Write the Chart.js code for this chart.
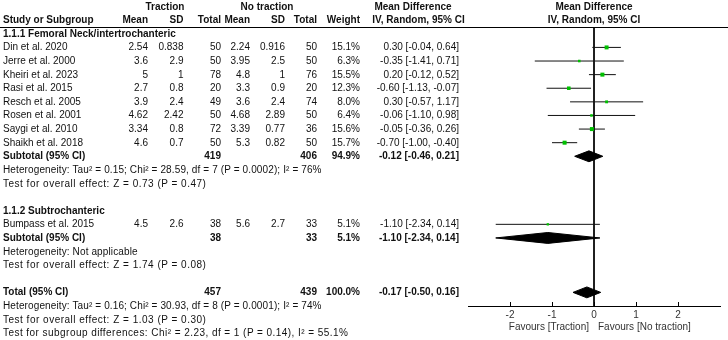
<!DOCTYPE html>
<html><head><meta charset="utf-8">
<script src="https://cdn.jsdelivr.net/npm/chart.js@4.4.1/dist/chart.umd.min.js"></script>
<style>
html,body{margin:0;padding:0;background:#fff;}
#wrap{position:relative;width:728px;height:340px;overflow:hidden;font-family:"Liberation Sans",Arial,sans-serif;font-size:10px;color:#111;}
canvas{position:absolute;left:0;top:0;}
.t{position:absolute;white-space:nowrap;line-height:12px;transform:translateY(-50%);}
.r{transform:translate(-100%,-50%);}
.c{transform:translate(-50%,-50%);}
.b{font-weight:bold;}
.het{letter-spacing:0.12px;}
.tst{letter-spacing:0.5px;}
.sgd{letter-spacing:0.45px;}
#hline{position:absolute;left:0;top:27px;width:728px;height:1px;background:#000;}
</style></head><body>
<div id="wrap"><canvas id="c" width="728" height="340"></canvas><div id="hline"></div></div>
<script>
// ---------- DATA ----------
const groupNames = ["1.1.1 Femoral Neck/intertrochanteric", "1.1.2 Subtrochanteric"];
const studies = ["Din et al. 2020","Jerre et al. 2000","Kheiri et al. 2023","Rasi et al. 2015","Resch et al. 2005","Rosen et al. 2001","Saygi et al. 2010","Shaikh et al. 2018","Bumpass et al. 2015"];
const studyGroup = [0,0,0,0,0,0,0,0,1];
const tMean = ["2.54","3.6","5","2.7","3.9","4.62","3.34","4.6","4.5"];
const tSD   = ["0.838","2.9","1","0.8","2.4","2.42","0.8","0.7","2.6"];
const tN    = [50,50,78,20,49,50,72,50,38];
const cMean = ["2.24","3.95","4.8","3.3","3.6","4.68","3.39","5.3","5.6"];
const cSD   = ["0.916","2.5","1","0.9","2.4","2.89","0.77","0.82","2.7"];
const cN    = [50,50,76,20,74,50,36,50,33];
const weight = [15.1,6.3,15.5,12.3,8.0,6.4,15.6,15.7,5.1];
const md    = [0.30,-0.35,0.20,-0.60,0.30,-0.06,-0.05,-0.70,-1.10];
const ciLo  = [-0.04,-1.41,-0.12,-1.13,-0.57,-1.10,-0.36,-1.00,-2.34];
const ciHi  = [0.64,0.71,0.52,-0.07,1.17,0.98,0.26,-0.40,0.14];

const subTN = [419,38];
const subCN = [406,33];
const subWeight = [94.9,5.1];
const subMd = [-0.12,-1.10];
const subLo = [-0.46,-2.34];
const subHi = [0.21,0.14];
const subHet = ["Heterogeneity: Tau\u00B2 = 0.15; Chi\u00B2 = 28.59, df = 7 (P = 0.0002); I\u00B2 = 76%","Heterogeneity: Not applicable"];
const subTest = ["Test for overall effect: Z = 0.73 (P = 0.47)","Test for overall effect: Z = 1.74 (P = 0.08)"];

const totalTN = 457, totalCN = 439, totalWeight = 100.0;
const totalMd = -0.17, totalLo = -0.50, totalHi = 0.16;
const totalHet = "Heterogeneity: Tau\u00B2 = 0.16; Chi\u00B2 = 30.93, df = 8 (P = 0.0001); I\u00B2 = 74%";
const totalTest = "Test for overall effect: Z = 1.03 (P = 0.30)";
const subgroupDiff = "Test for subgroup differences: Chi\u00B2 = 2.23, df = 1 (P = 0.14), I\u00B2 = 55.1%";

const xTicks = [-2,-1,0,1,2];
const favLeft = "Favours [Traction]", favRight = "Favours [No traction]";

// ---------- ROW LAYOUT ----------
let r = 2;
const studyRow = [], groupRow = [], subRow = [], hetRow = [], testRow = [];
groupNames.forEach((g, gi) => {
  groupRow[gi] = r++;
  studies.forEach((s, i) => { if (studyGroup[i] === gi) studyRow[i] = r++; });
  subRow[gi] = r++; hetRow[gi] = r++; testRow[gi] = r++; r++;
});
const totalRow = r;
const Y_TOP = 1.5, Y_BOT = totalRow + 1;

const fmt = v => v.toFixed(2);
const ciText = (m,l,h) => `${fmt(m)} [${fmt(l)}, ${fmt(h)}]`;
const H = 0.4;
function diamond(m,l,h,row){ return [{x:l,y:row},{x:m,y:row-H},{x:h,y:row},{x:m,y:row+H},{x:l,y:row}]; }

const datasets = [];
datasets.push({
  data: studies.map((s,i)=>({x:md[i], y:studyRow[i]})),
  showLine:false, pointStyle:'rect',
  pointRadius: weight.map(w=>Math.sqrt(w)*0.72),
  backgroundColor:'#00c000', borderWidth:0, pointBorderWidth:0
});
subMd.forEach((m,gi)=>datasets.push({data:diamond(m,subLo[gi],subHi[gi],subRow[gi]), showLine:true, fill:'shape', backgroundColor:'#000', borderColor:'#000', borderWidth:1, pointRadius:0, tension:0}));
datasets.push({data:diamond(totalMd,totalLo,totalHi,totalRow), showLine:true, fill:'shape', backgroundColor:'#000', borderColor:'#000', borderWidth:1, pointRadius:0, tension:0});
studies.forEach((s,i)=>datasets.push({data:[{x:ciLo[i],y:studyRow[i]},{x:ciHi[i],y:studyRow[i]}], showLine:true, borderColor:'#111', borderWidth:1, pointRadius:0, fill:false}));
datasets.push({data:[{x:0,y:Y_TOP},{x:0,y:Y_BOT}], showLine:true, borderColor:'#000', borderWidth:1, pointRadius:0, fill:false});

const tickMarks = {
  id:'tickMarks',
  afterDraw(chart){
    const {ctx, scales:{x}, chartArea} = chart;
    ctx.save(); ctx.strokeStyle='#000'; ctx.lineWidth=1;
    x.ticks.forEach(t=>{ const px=Math.round(x.getPixelForValue(t.value))+0.5; ctx.beginPath(); ctx.moveTo(px, chartArea.bottom+1); ctx.lineTo(px, chartArea.bottom-4); ctx.stroke(); });
    ctx.restore();
  }
};

const chart = new Chart(document.getElementById('c'), {
  type:'line',
  data:{datasets},
  plugins:[tickMarks],
  options:{
    responsive:false, animation:false, events:[],
    layout:{padding:{left:468, right:8, top:27, bottom:0}},
    plugins:{legend:{display:false}, tooltip:{enabled:false}},
    scales:{
      x:{type:'linear', min:-3, max:3,
        afterBuildTicks: s => { s.ticks = xTicks.map(v=>({value:v})); },
        afterFit: s => { s.height = 34; },
        grid:{display:false, drawTicks:false},
        border:{display:true, color:'#000', width:1},
        ticks:{font:{family:'"Liberation Sans", Arial, sans-serif', size:10}, color:'#333', padding:3}},
      y:{type:'linear', display:false, min:Y_TOP, max:Y_BOT, reverse:true}
    }
  }
});

// ---------- TEXT TABLE ----------
const wrap = document.getElementById('wrap');
const yS = chart.scales.y, xS = chart.scales.x;
const Y = i => yS.getPixelForValue(i);
function txt(s, x, row, cls){ const d=document.createElement('div'); d.className='t '+(cls||''); d.textContent=s; d.style.left=x+'px'; d.style.top=Y(row)+'px'; wrap.appendChild(d); }
const X = {name:3, tMean:148, tSD:183.5, tN:221, cMean:250, cSD:285, cN:317, w:360, ci:459};
const zeroX = xS.getPixelForValue(0);

txt("Traction", 165, 0, 'c b'); txt("No traction", 267, 0, 'c b');
txt("Mean Difference", 413, 0, 'c b'); txt("Mean Difference", zeroX, 0, 'c b');
txt("Study or Subgroup", X.name, 1, 'b');
txt("Mean", X.tMean, 1, 'r b'); txt("SD", X.tSD, 1, 'r b'); txt("Total", X.tN, 1, 'r b');
txt("Mean", X.cMean, 1, 'r b'); txt("SD", X.cSD, 1, 'r b'); txt("Total", X.cN, 1, 'r b');
txt("Weight", X.w, 1, 'r b');
txt("IV, Random, 95% CI", 418.5, 1, 'c b'); txt("IV, Random, 95% CI", zeroX, 1, 'c b');

groupNames.forEach((g,gi)=>{
  txt(g, X.name, groupRow[gi], 'b');
  txt("Subtotal (95% CI)", X.name, subRow[gi], 'b');
  txt(String(subTN[gi]), X.tN, subRow[gi], 'r b');
  txt(String(subCN[gi]), X.cN, subRow[gi], 'r b');
  txt(subWeight[gi].toFixed(1)+'%', X.w, subRow[gi], 'r b');
  txt(ciText(subMd[gi],subLo[gi],subHi[gi]), X.ci, subRow[gi], 'r b');
  txt(subHet[gi], X.name, hetRow[gi], 'het');
  txt(subTest[gi], X.name, testRow[gi], 'tst');
});
studies.forEach((s,i)=>{
  const rr = studyRow[i];
  txt(s, X.name, rr);
  txt(tMean[i], X.tMean, rr, 'r'); txt(tSD[i], X.tSD, rr, 'r'); txt(String(tN[i]), X.tN, rr, 'r');
  txt(cMean[i], X.cMean, rr, 'r'); txt(cSD[i], X.cSD, rr, 'r'); txt(String(cN[i]), X.cN, rr, 'r');
  txt(weight[i].toFixed(1)+'%', X.w, rr, 'r');
  txt(ciText(md[i],ciLo[i],ciHi[i]), X.ci, rr, 'r');
});
txt("Total (95% CI)", X.name, totalRow, 'b');
txt(String(totalTN), X.tN, totalRow, 'r b'); txt(String(totalCN), X.cN, totalRow, 'r b');
txt(totalWeight.toFixed(1)+'%', X.w, totalRow, 'r b');
txt(ciText(totalMd,totalLo,totalHi), X.ci, totalRow, 'r b');
txt(totalHet, X.name, totalRow+1, 'het');
txt(totalTest, X.name, totalRow+2, 'tst');
txt(subgroupDiff, X.name, totalRow+3, 'sgd');

// favours labels below axis
const fy = chart.chartArea.bottom + 21;
const fl = document.createElement('div'); fl.className='t r'; fl.style.color='#333'; fl.textContent=favLeft; fl.style.left=(zeroX-5)+'px'; fl.style.top=fy+'px'; wrap.appendChild(fl);
const fr = document.createElement('div'); fr.className='t'; fr.style.color='#333'; fr.textContent=favRight; fr.style.left=(zeroX+4)+'px'; fr.style.top=fy+'px'; wrap.appendChild(fr);
</script>
</body></html>
